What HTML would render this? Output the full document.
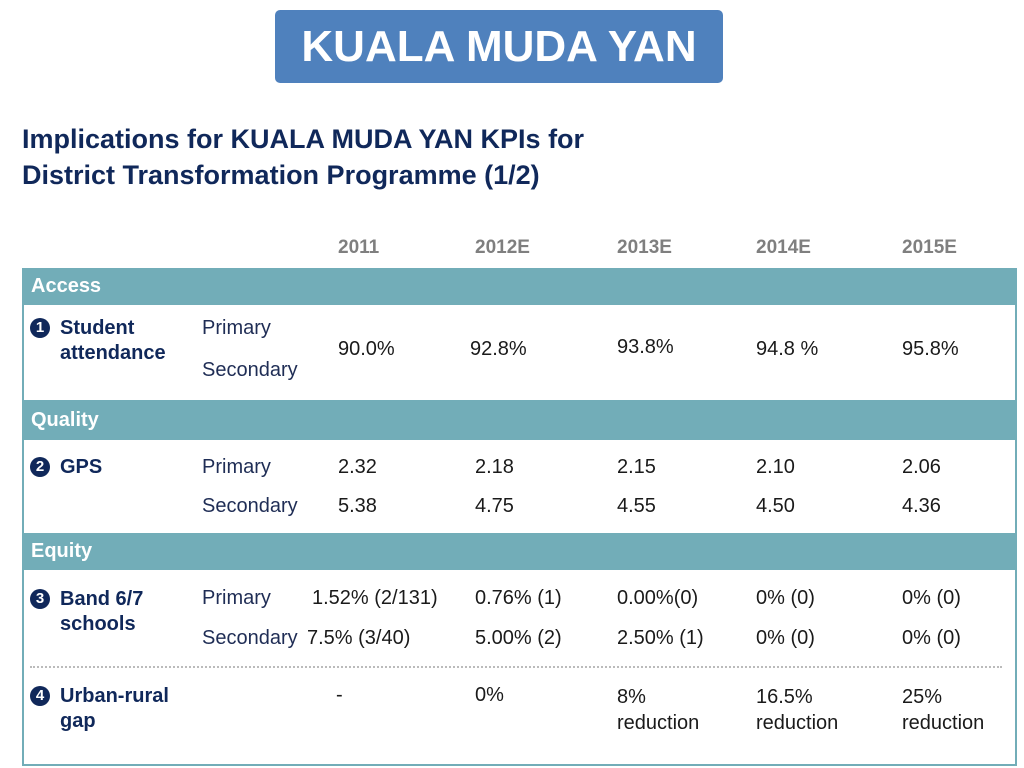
<!DOCTYPE html>
<html><head><meta charset="utf-8"><style>
body{margin:0;width:1024px;height:768px;background:#fff;position:relative;overflow:hidden;font-family:"Liberation Sans",Arial,sans-serif}
.a{position:absolute;white-space:nowrap}
.v{font-size:20px;color:#1a1a1a}
.l{font-size:20px;color:#1f2d55}
.b{font-size:20px;color:#10285a;font-weight:bold;line-height:25px}
.y{font-size:19px;color:#7f7f7f;font-weight:bold}
.bar{position:absolute;left:22px;width:995px;background:#72adb8;color:#fff;font-weight:bold;font-size:20px;box-sizing:border-box;padding-left:9px}
.n{position:absolute;width:20px;height:20px;border-radius:50%;background:#10285a;color:#fff;font-weight:bold;font-size:15px;text-align:center;line-height:20px}
</style></head><body>
<div class="a" style="left:275px;top:10px;width:448px;height:73px;background:#4f81bd;border-radius:5px;color:#fff;font-weight:bold;font-size:44px;text-align:center;line-height:73px">KUALA MUDA YAN</div>
<div class="a" style="left:22px;top:121px;font-size:27px;font-weight:bold;color:#10285a;line-height:36px">Implications for KUALA MUDA YAN KPIs for<br>District Transformation Programme (1/2)</div>

<div class="a y" style="left:338px;top:237px">2011</div>
<div class="a y" style="left:475px;top:237px">2012E</div>
<div class="a y" style="left:617px;top:237px">2013E</div>
<div class="a y" style="left:756px;top:237px">2014E</div>
<div class="a y" style="left:902px;top:237px">2015E</div>

<div class="a" style="left:22px;top:268px;width:995px;height:498px;border:2px solid #72adb8;box-sizing:border-box"></div>
<div class="bar" style="top:268px;height:37px;line-height:37px">Access</div>
<div class="bar" style="top:400px;height:40px;line-height:40px">Quality</div>
<div class="bar" style="top:533px;height:37px;line-height:37px">Equity</div>
<div class="a" style="left:30px;top:666px;width:972px;border-top:2px dotted #bbb"></div>

<div class="n" style="left:30px;top:318px">1</div>
<div class="a b" style="left:60px;top:316px">Student<br>attendance</div>
<div class="a l" style="left:202px;top:317px">Primary</div>
<div class="a l" style="left:202px;top:359px">Secondary</div>
<div class="a v" style="left:338px;top:338px">90.0%</div>
<div class="a v" style="left:470px;top:338px">92.8%</div>
<div class="a v" style="left:617px;top:336px">93.8%</div>
<div class="a v" style="left:756px;top:338px">94.8 %</div>
<div class="a v" style="left:902px;top:338px">95.8%</div>

<div class="n" style="left:30px;top:457px">2</div>
<div class="a b" style="left:60px;top:455px">GPS</div>
<div class="a l" style="left:202px;top:456px">Primary</div>
<div class="a l" style="left:202px;top:495px">Secondary</div>
<div class="a v" style="left:338px;top:456px">2.32</div>
<div class="a v" style="left:475px;top:456px">2.18</div>
<div class="a v" style="left:617px;top:456px">2.15</div>
<div class="a v" style="left:756px;top:456px">2.10</div>
<div class="a v" style="left:902px;top:456px">2.06</div>
<div class="a v" style="left:338px;top:495px">5.38</div>
<div class="a v" style="left:475px;top:495px">4.75</div>
<div class="a v" style="left:617px;top:495px">4.55</div>
<div class="a v" style="left:756px;top:495px">4.50</div>
<div class="a v" style="left:902px;top:495px">4.36</div>

<div class="n" style="left:30px;top:589px">3</div>
<div class="a b" style="left:60px;top:587px">Band 6/7<br>schools</div>
<div class="a l" style="left:202px;top:587px">Primary</div>
<div class="a l" style="left:202px;top:627px">Secondary</div>
<div class="a v" style="left:312px;top:587px">1.52% (2/131)</div>
<div class="a v" style="left:475px;top:587px">0.76% (1)</div>
<div class="a v" style="left:617px;top:587px">0.00%(0)</div>
<div class="a v" style="left:756px;top:587px">0% (0)</div>
<div class="a v" style="left:902px;top:587px">0% (0)</div>
<div class="a v" style="left:307px;top:627px">7.5% (3/40)</div>
<div class="a v" style="left:475px;top:627px">5.00% (2)</div>
<div class="a v" style="left:617px;top:627px">2.50% (1)</div>
<div class="a v" style="left:756px;top:627px">0% (0)</div>
<div class="a v" style="left:902px;top:627px">0% (0)</div>

<div class="n" style="left:30px;top:686px">4</div>
<div class="a b" style="left:60px;top:684px">Urban-rural<br>gap</div>
<div class="a v" style="left:336px;top:684px">-</div>
<div class="a v" style="left:475px;top:684px">0%</div>
<div class="a v" style="left:617px;top:684px;line-height:26px">8%<br>reduction</div>
<div class="a v" style="left:756px;top:684px;line-height:26px">16.5%<br>reduction</div>
<div class="a v" style="left:902px;top:684px;line-height:26px">25%<br>reduction</div>
</body></html>
